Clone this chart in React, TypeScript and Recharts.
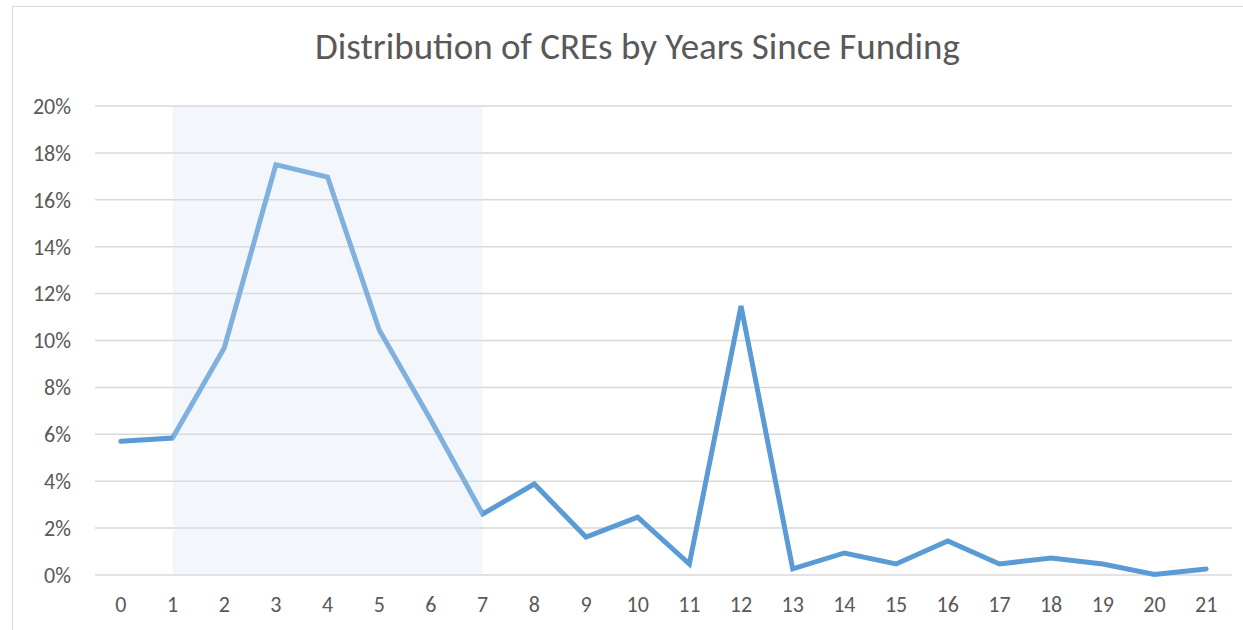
import React from 'react';
import {CartesianGrid, Line, LineChart, ReferenceArea, XAxis, YAxis} from "recharts";

const years = [0, 1, 2, 3, 4, 5, 6, 7, 8, 9, 10, 11, 12, 13, 14, 15, 16, 17, 18, 19, 20, 21];
const shares = [5.7, 5.84, 9.68, 17.5, 16.97, 10.45, 6.6, 2.6, 3.88, 1.62, 2.47, 0.47, 11.47, 0.26, 0.94, 0.47, 1.45, 0.47, 0.72, 0.47, 0.02, 0.26];
const yTicks = [0, 2, 4, 6, 8, 10, 12, 14, 16, 18, 20];
const highlight = {from: 1, to: 7};
const title = 'Distribution of CREs by Years Since Funding';

const font = 'Carlito, Lato, "Open Sans", sans-serif';

const App = () => {
	const data = years.map((y, i) => ({year: y, share: shares[i]}));

	return (
		<div style={{position: 'absolute', left: 0, top: 0, width: 1243, height: 630, background: '#fff', overflow: 'hidden', fontFamily: font}}>
			<div style={{position: 'absolute', left: 12, top: 6, width: 1240, height: 640, border: '1px solid #D9D9D9'}}/>
			<div style={{position: 'absolute', left: 0, top: 25, width: 1275, textAlign: 'center', fontSize: 37, lineHeight: '44px', color: '#595959'}}>
				{title}
			</div>
			<div style={{position: 'absolute', left: 0, top: 0}}>
				<LineChart width={1243} height={630} data={data} margin={{left: 35, right: 11, top: 106, bottom: 15}}>
					<CartesianGrid vertical={false} stroke="#D9D9D9" strokeWidth={1.5}/>
					<XAxis dataKey="year" type="number" domain={[-0.5, 21.5]} ticks={years} interval={0}
						   axisLine={false} tickLine={false} tickSize={0} tickMargin={21} height={40}
						   tick={{fill: '#595959', fontSize: 22, fontFamily: font}}/>
					<YAxis domain={[0, 20]} ticks={yTicks} axisLine={false} tickLine={false} tickSize={0}
						   tickMargin={24} width={60} tickFormatter={(v) => `${v}%`}
						   tick={{fill: '#595959', fontSize: 22, fontFamily: font}}/>
					<Line type="linear" dataKey="share" stroke="#5B9BD5" strokeWidth={5} dot={false}
						  activeDot={false} strokeLinecap="round" isAnimationActive={false}/>
					<ReferenceArea x1={highlight.from} x2={highlight.to} fill="#D6E4F4" fillOpacity={0.3}
								   stroke="none" ifOverflow="visible" zIndex={2000}/>
				</LineChart>
			</div>
		</div>
	);
};

export default App;
